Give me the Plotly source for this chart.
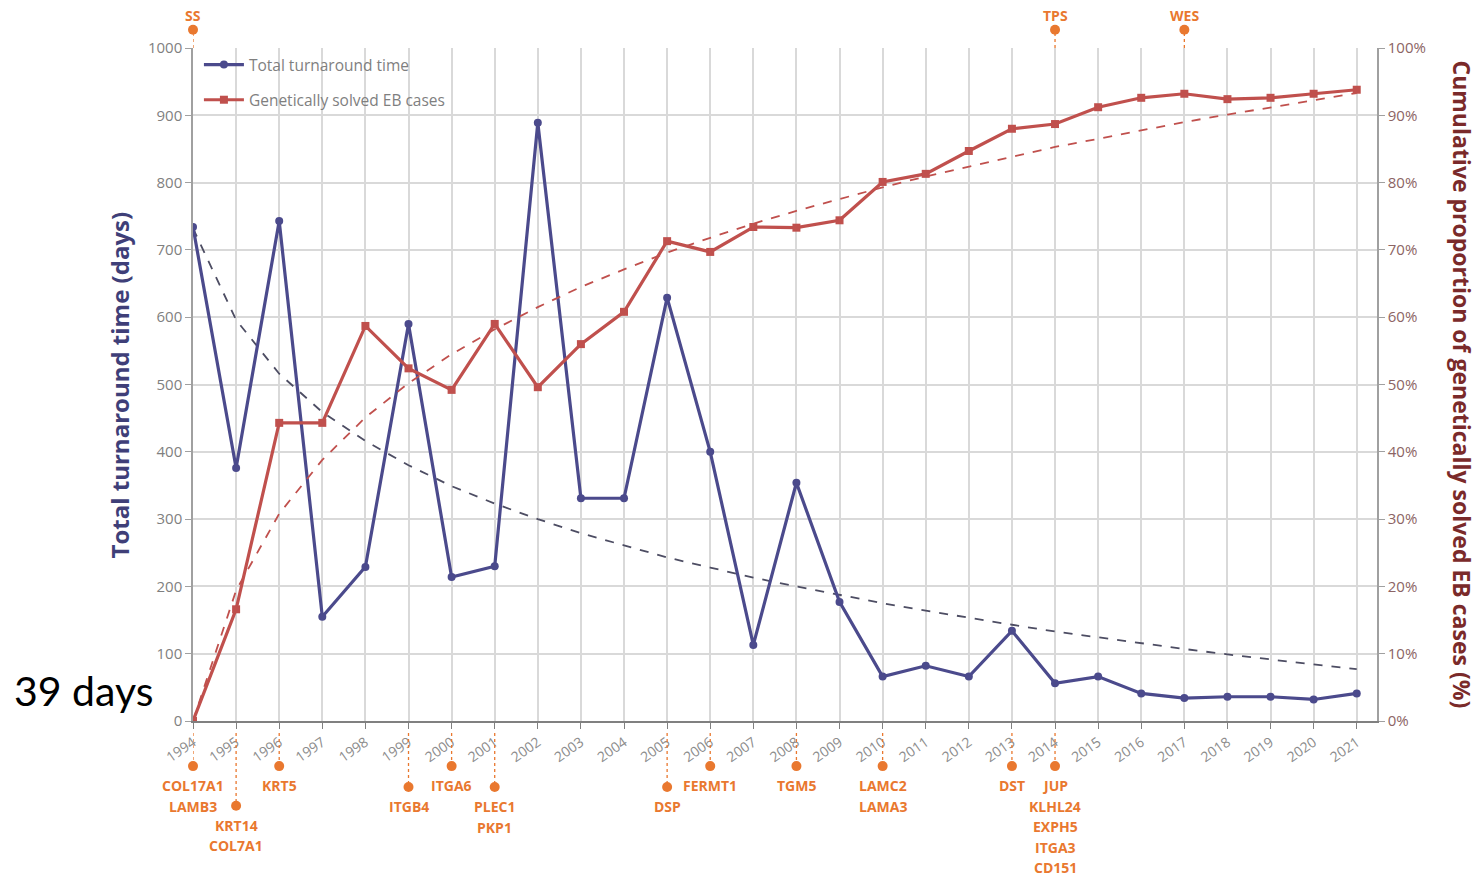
import plotly.graph_objects as go

# ---------------- data ----------------
years = list(range(1994, 2022))
turnaround_days = [734, 376, 743, 155, 229, 590, 214, 230, 889, 331, 331, 629, 400, 113, 354,
                   177, 66, 82, 66, 134, 56, 66, 41, 34, 36, 36, 32, 41]
solved_pct = [0, 16.6, 44.3, 44.3, 58.7, 52.4, 49.2, 59.0, 49.6, 56.0, 60.8, 71.3, 69.7, 73.4,
              73.3, 74.4, 80.1, 81.3, 84.7, 88.0, 88.7, 91.2, 92.6, 93.2, 92.4, 92.6, 93.2, 93.8]
# trendlines
trend_days = [732, 596, 516, 459, 416, 380, 349, 323, 300, 279, 261, 243, 228, 213, 200,
              187, 175, 164, 153, 143, 133, 124, 116, 107, 99, 91, 84, 77]
trend_pct = [0, 19.4, 30.8, 38.8, 45.1, 50.2, 54.5, 58.2, 61.5, 64.5, 67.1, 69.6, 71.8, 73.9,
             75.8, 77.6, 79.3, 80.9, 82.4, 83.9, 85.3, 86.5, 87.8, 89.0, 90.1, 91.2, 92.3, 93.3]

gene_years = [1994, 1995, 1996, 1999, 2000, 2001, 2005, 2006, 2008, 2010, 2013, 2014]
gene_labels = [["COL17A1", "LAMB3"], ["KRT14", "COL7A1"], ["KRT5"], ["ITGB4"], ["ITGA6"],
               ["PLEC1", "PKP1"], ["DSP"], ["FERMT1"], ["TGM5"], ["LAMC2", "LAMA3"],
               ["DST"], ["JUP", "KLHL24", "EXPH5", "ITGA3", "CD151"]]
method_years = [1994, 2014, 2017]
method_labels = ["SS", "TPS", "WES"]

# ---------------- styling / layout ----------------
PURPLE = "#4B4A8C"
RED = "#C0504D"
ORANGE = "#E9782F"
GRID = "#D9D9D9"
TICKC = "#7F7F7F"
FONT = "Open Sans"
gene_level = [1, 3, 1, 2, 1, 2, 2, 1, 1, 1, 1, 1]   # vertical tier of each gene marker
level_y = {1: -67, 2: -98, 3: -126}                    # axis units below zero
top_dot_y = 1027
top_text_y = 1049
X_RANGE = [1994, 2021.47]

W, H = 1483, 881
ML, MR = 193, 106
PLOT_TOP, PLOT_BOTTOM = 48, 721          # figure pixels
px_per_unit = (PLOT_BOTTOM - PLOT_TOP) / 1000.0
dom = [(H - PLOT_BOTTOM) / H, (H - PLOT_TOP) / H]
y3_lo = -(H - PLOT_BOTTOM) / px_per_unit
y3_range = [y3_lo, y3_lo + H / px_per_unit]

fig = go.Figure()

fig.add_trace(go.Scatter(x=years, y=trend_days, mode="lines", showlegend=False,
                         line=dict(color="#4D4D63", width=1.8, dash="dash"), hoverinfo="skip"))
fig.add_trace(go.Scatter(x=years, y=trend_pct, mode="lines", showlegend=False, yaxis="y2",
                         line=dict(color=RED, width=1.8, dash="dash"), hoverinfo="skip"))
fig.add_trace(go.Scatter(x=years, y=turnaround_days, mode="lines+markers",
                         name="Total turnaround time", legendgroup="a",
                         line=dict(color=PURPLE, width=3.2),
                         marker=dict(symbol="circle", size=8, color=PURPLE)))
fig.add_trace(go.Scatter(x=years, y=solved_pct, mode="lines+markers", yaxis="y2",
                         name="Genetically solved EB cases", legendgroup="b",
                         line=dict(color=RED, width=3.2),
                         marker=dict(symbol="square", size=8, color=RED)))

# gene discovery markers below axis (on a full-height hidden subplot x2/y3)
for yr, lv in zip(gene_years, gene_level):
    fig.add_trace(go.Scatter(x=[yr, yr], y=[-18, level_y[lv]], mode="lines", showlegend=False,
                             xaxis="x2", yaxis="y3", hoverinfo="skip",
                             line=dict(color=ORANGE, width=1.3, dash="dot")))
fig.add_trace(go.Scatter(x=gene_years, y=[level_y[l] for l in gene_level], mode="markers",
                         showlegend=False, cliponaxis=False, hoverinfo="skip",
                         xaxis="x2", yaxis="y3", marker=dict(size=10, color=ORANGE)))
for yr, lv, labs in zip(gene_years, gene_level, gene_labels):
    for i, lab in enumerate(labs):
        fig.add_annotation(x=yr, y=level_y[lv], xref="x2", yref="y3", text="<b>%s</b>" % lab,
                           showarrow=False, yshift=-19.5 - 20.6 * i, borderpad=0,
                           font=dict(family=FONT, size=14, color=ORANGE))

# method markers above plot
for yr in method_years:
    fig.add_trace(go.Scatter(x=[yr, yr], y=[1000, top_dot_y], mode="lines", showlegend=False,
                             xaxis="x2", yaxis="y3", hoverinfo="skip",
                             line=dict(color=ORANGE, width=1.3, dash="dot")))
fig.add_trace(go.Scatter(x=method_years, y=[top_dot_y] * len(method_years), mode="markers",
                         showlegend=False, cliponaxis=False, hoverinfo="skip",
                         xaxis="x2", yaxis="y3", marker=dict(size=10, color=ORANGE)))
for yr, lab in zip(method_years, method_labels):
    fig.add_annotation(x=yr, y=top_text_y, xref="x2", yref="y3", text="<b>%s</b>" % lab,
                       showarrow=False, borderpad=0,
                       font=dict(family=FONT, size=14, color=ORANGE))

# axis titles and side note
fig.add_annotation(x=-0.0617, y=(dom[0] + dom[1]) / 2, xref="paper", yref="paper",
                   text="<b>Total turnaround time (days)</b>", showarrow=False, textangle=-90,
                   xanchor="center", yanchor="middle",
                   font=dict(family=FONT, size=24, color="#3F3F78"))
fig.add_annotation(x=1.0, y=(dom[0] + dom[1]) / 2, xref="paper", yref="paper",
                   text="<b>Cumulative proportion of genetically solved EB cases (%)</b>",
                   showarrow=False, textangle=90, xanchor="center", yanchor="middle", xshift=85,
                   font=dict(family=FONT, size=23, color="#7A2A2A"))
fig.add_annotation(x=-0.1529, y=(H - 690) / H, xref="paper", yref="paper", text="39 days",
                   showarrow=False, xanchor="left", yanchor="middle",
                   font=dict(family="Lato", size=41, color="black"))

fig.update_layout(
    width=W, height=H,
    margin=dict(l=ML, r=MR, t=0, b=0, pad=0, autoexpand=False),
    plot_bgcolor="rgba(0,0,0,0)", paper_bgcolor="white",
    font=dict(family=FONT, size=15, color=TICKC),
    legend=dict(x=0.005, y=dom[1], xanchor="left", yanchor="top", bgcolor="rgba(0,0,0,0)",
                font=dict(family=FONT, size=15.5, color=TICKC), tracegroupgap=12,
                traceorder="grouped", itemwidth=40),
    xaxis=dict(range=X_RANGE, tickvals=years, ticktext=[str(y) for y in years],
               tickangle=-35, showgrid=True, gridcolor=GRID, gridwidth=1.5,
               ticks="outside", ticklen=6, tickcolor="#808080", showline=True,
               linecolor="#808080", linewidth=1.5, zeroline=False, anchor="y",
               tickfont=dict(family=FONT, size=14, color="#8C8C8C")),
    yaxis=dict(domain=dom, range=[0, 1000], dtick=100, showgrid=True, gridcolor=GRID,
               gridwidth=1.5, ticks="outside", ticklen=6, tickcolor="#A0A0A0", showline=True,
               linecolor="#A0A0A0", linewidth=1.5, zeroline=False,
               tickfont=dict(family=FONT, size=15, color=TICKC)),
    yaxis2=dict(domain=dom, range=[0, 100], dtick=10, ticksuffix="%", overlaying="y",
                side="right", anchor="x", showgrid=False, ticks="outside", ticklen=6,
                tickcolor="#A0A0A0", showline=True, linecolor="#A0A0A0", linewidth=1.5,
                zeroline=False, tickfont=dict(family=FONT, size=15, color="#8C6464")),
    xaxis2=dict(domain=[0, 1], range=X_RANGE, anchor="y3", visible=False, showgrid=False,
                zeroline=False, fixedrange=True),
    yaxis3=dict(domain=[0, 1], range=y3_range, anchor="x2", visible=False,
                showgrid=False, zeroline=False, fixedrange=True),
)

# remove the browser's default 8px body margin so the figure fills the window exactly
fig.write_html("out.html", config={"displayModeBar": False},
               post_script="document.body.style.margin='0px';document.body.style.overflow='hidden';")
